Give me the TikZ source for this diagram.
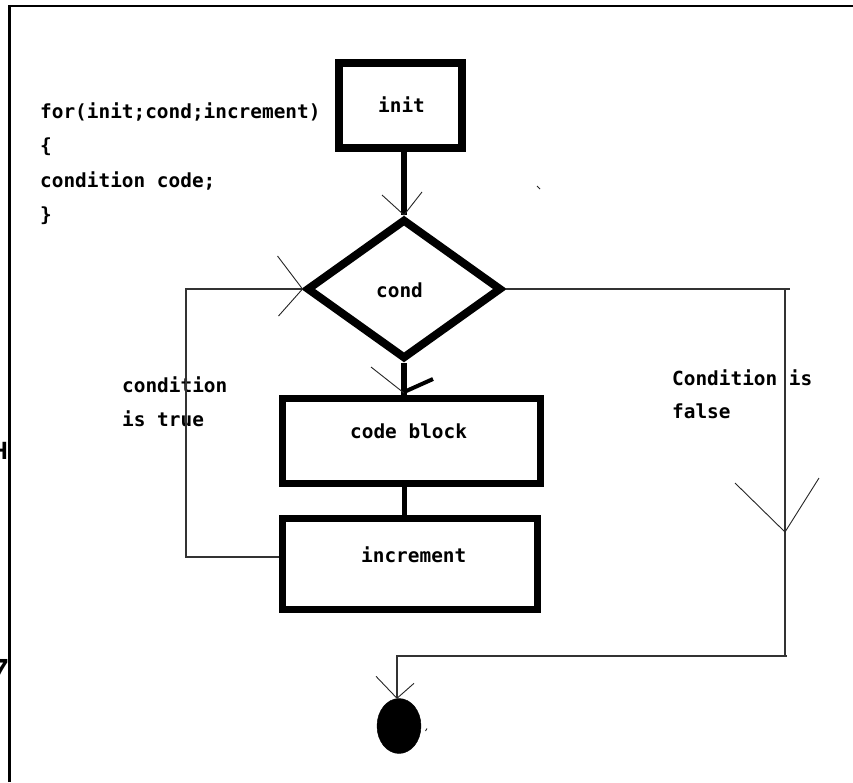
\documentclass[tikz,border=0pt]{standalone}
\usepackage{fontspec}
\setmonofont{DejaVu Sans Mono}
\newfontfamily\fragfont{Liberation Sans}
\usetikzlibrary{shapes.geometric}
\begin{document}
\begin{tikzpicture}[x=1pt,y=-1pt,
  lbl/.style={font=\fontsize{19.4}{23}\selectfont\ttfamily\bfseries, inner sep=0pt, anchor=base west},
  thickbox/.style={draw, rectangle, inner sep=0pt},
  flow/.style={line width=5.5pt},
  wire/.style={line width=1.4pt, draw=black!80},
  tick/.style={line width=0.9pt, draw=black!85},
]
\useasboundingbox (0,0) rectangle (853,782);
\fill[white] (0,0) rectangle (853,782);

% outer frame
\draw[line width=2.6pt] (9.5,782) -- (9.5,6) -- (853,6);

% glyph pieces cut by the left edge
\begin{scope}
  \clip (0,0) rectangle (8.3,782);
  \node[font=\fontsize{25}{25}\fragfont\bfseries, anchor=base east, inner sep=0pt] (hfrag) at (8.2,459) {H};
  \node[font=\fontsize{48}{48}\fragfont, anchor=base east, inner sep=0pt] (sevenfrag) at (10.5,692) {7};
\end{scope}

% source snippet
\node[lbl] (cl1) at (40,118) {for(init;cond;increment)};
\node[lbl] (cl2) at (40,152.5) {\{};
\node[lbl] (cl3) at (40,187) {condition code;};
\node[lbl] (cl4) at (40,221.5) {\}};

% flowchart shapes
\node[thickbox, line width=8pt, minimum width=123pt, minimum height=85pt] (init) at (400.5,105.5) {};
\node[draw, diamond, line width=8pt, minimum width=195pt, minimum height=140pt, inner sep=0pt] (cond) at (404,289) {};
\node[thickbox, line width=7pt, minimum width=258pt, minimum height=85pt] (code) at (411.5,441) {};
\node[thickbox, line width=7pt, minimum width=255pt, minimum height=91pt] (incr) at (410,564) {};
\node[draw, fill=black, ellipse, minimum width=44pt, minimum height=55pt, inner sep=0pt] (end) at (399,726) {};

% shape texts
\node[lbl] (initT) at (378,112) {init};
\node[lbl] (condT) at (376,297) {cond};
\node[lbl] (codeT) at (350,438) {code block};
\node[lbl] (incrT) at (361,562) {increment};
\node[lbl] (trueA) at (122,392) {condition};
\node[lbl] (trueB) at (122,426) {is true};
\node[lbl] (falseA) at (672,385) {Condition is};
\node[lbl] (falseB) at (672,418) {false};

% init -> cond
\draw[flow] (cond.north |- init.south) -- (cond.north);
\draw[tick] ([shift={(-22,-20)}]cond.north) -- (cond.north) -- ([shift={(18,-23)}]cond.north);

% cond -> code block
\coordinate (codeIn) at (cond.south |- code.north);
\draw[flow] (cond.south) -- (codeIn);
\draw[tick] ([shift={(-33,-28)}]codeIn) -- ([shift={(0,-2)}]codeIn);
\draw[line width=4pt] ([shift={(0,-3)}]codeIn) -- ([shift={(29,-16)}]codeIn);

% code block -> increment
\draw[line width=5pt] (cond.south |- code.south) -- (cond.south |- incr.north);

% loop back while the condition holds
\coordinate (loopB) at (186,557);
\coordinate (loopT) at (186,289);
\draw[wire] ([yshift=7pt]incr.west) -- (loopB) -- (loopT) -- (cond.west);
\draw[tick] ([shift={(-25,-33)}]cond.west) -- (cond.west) -- ([shift={(-24,27)}]cond.west);

% exit when the condition fails
\coordinate (fR) at (785,289);
\coordinate (fA) at (785,532);
\coordinate (fB) at (785,656);
\coordinate (fL) at (397,656);
\draw[wire] (cond.east) -- ([xshift=5pt]fR);
\draw[wire] (fR) -- (fB) -- ([xshift=2pt]fB);
\draw[wire] (fB) -- (fL) -- (fL |- end.north);
\draw[tick] ([shift={(-50,-49)}]fA) -- (fA) -- ([shift={(34,-54)}]fA);
\draw[tick] ([shift={(-21,-22)}]fL |- end.north) -- (fL |- end.north) -- ([shift={(17,-15)}]fL |- end.north);

% stray pen marks
\draw[tick] (537,186) -- (540,189);
\draw[tick] (425.5,731) -- (427,728.5);
\end{tikzpicture}
\end{document}
